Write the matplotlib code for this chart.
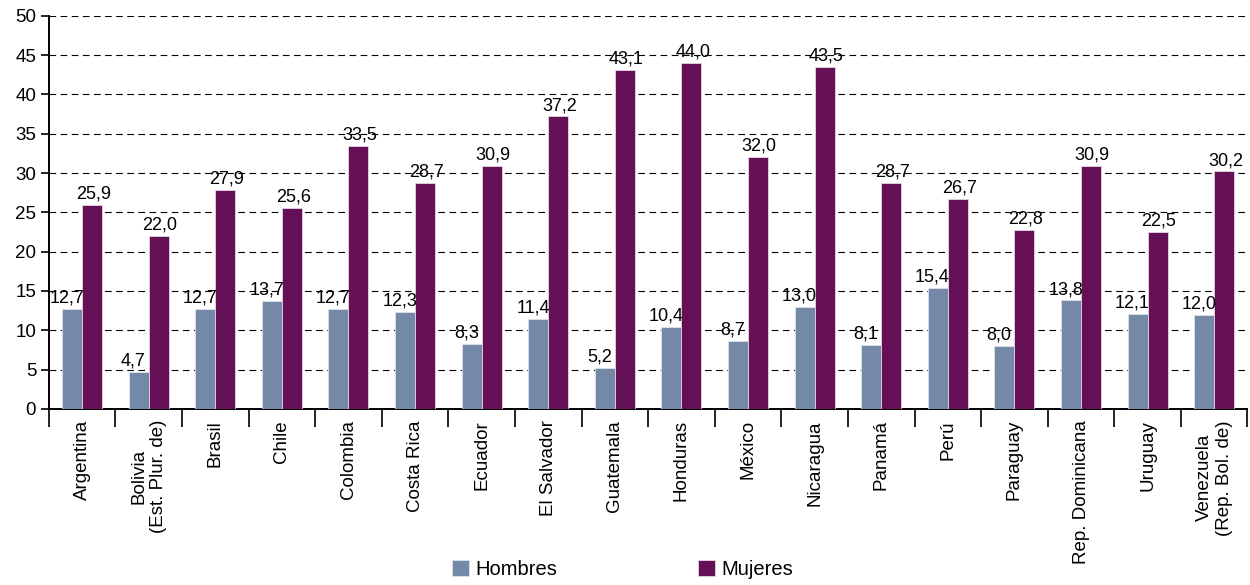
import matplotlib
matplotlib.use("Agg")
import matplotlib.pyplot as plt
import numpy as np

paises = ["Argentina", "Bolivia\n(Est. Plur. de)", "Brasil", "Chile", "Colombia",
          "Costa Rica", "Ecuador", "El Salvador", "Guatemala", "Honduras", "México",
          "Nicaragua", "Panamá", "Perú", "Paraguay", "Rep. Dominicana", "Uruguay",
          "Venezuela\n(Rep. Bol. de)"]
hombres = [12.7, 4.7, 12.7, 13.7, 12.7, 12.3, 8.3, 11.4, 5.2, 10.4, 8.7, 13.0,
           8.1, 15.4, 8.0, 13.8, 12.1, 12.0]
mujeres = [25.9, 22.0, 27.9, 25.6, 33.5, 28.7, 30.9, 37.2, 43.1, 44.0, 32.0, 43.5,
           28.7, 26.7, 22.8, 30.9, 22.5, 30.2]

plt.rcParams["font.family"] = ["Liberation Sans", "DejaVu Sans"]

fig = plt.figure(figsize=(12.5, 5.85), dpi=100)
ax = fig.add_axes([0.039, 0.301, 0.959, 0.672])

x = np.arange(len(paises))
w = 0.30
c_h, c_m = "#7489a8", "#650f56"
b1 = ax.bar(x - w / 2, hombres, w, color=c_h, edgecolor="#dfe3ea", linewidth=0.6,
            label="Hombres", zorder=3)
b2 = ax.bar(x + w / 2, mujeres, w, color=c_m, edgecolor="#e6d6e3", linewidth=0.6,
            label="Mujeres", zorder=3)

fmt = lambda v: f"{v:.1f}".replace(".", ",")
for bars, vals, dx in ((b1, hombres, -0.08), (b2, mujeres, 0.02)):
    for b, v in zip(bars, vals):
        ax.text(b.get_x() + b.get_width() / 2 + dx, v + 0.3, fmt(v),
                ha="center", va="bottom", fontsize=13, zorder=4)

ax.set_xlim(-0.5, len(paises) - 0.5)
ax.set_ylim(0, 50)
ax.set_yticks(range(0, 51, 5))
ax.yaxis.grid(True, color="black", linestyle=(0, (6, 4)), linewidth=0.8, zorder=0)
ax.set_axisbelow(True)

ax.set_xticks(x)
ax.set_xticklabels(paises, rotation=90, ha="center", va="top",
                   multialignment="center")
ax.set_xticks(np.arange(-0.5, len(paises), 1), minor=True)
ax.tick_params(axis="x", which="major", length=0, pad=8, labelsize=13.5)
ax.tick_params(axis="x", which="minor", length=13, width=1.2, direction="out")
ax.tick_params(axis="y", length=6, width=1.2, labelsize=13.5, pad=3)

for s in ("top", "right"):
    ax.spines[s].set_visible(False)
for s in ("left", "bottom"):
    ax.spines[s].set_linewidth(1.4)

fig.legend(handles=[b1, b2], loc="lower left", bbox_to_anchor=(0.347, -0.02),
           ncol=2, frameon=False, fontsize=14.5, columnspacing=7.0,
           handlelength=0.85, handleheight=0.85, handletextpad=0.3)

fig.savefig("out.png", dpi=100)
